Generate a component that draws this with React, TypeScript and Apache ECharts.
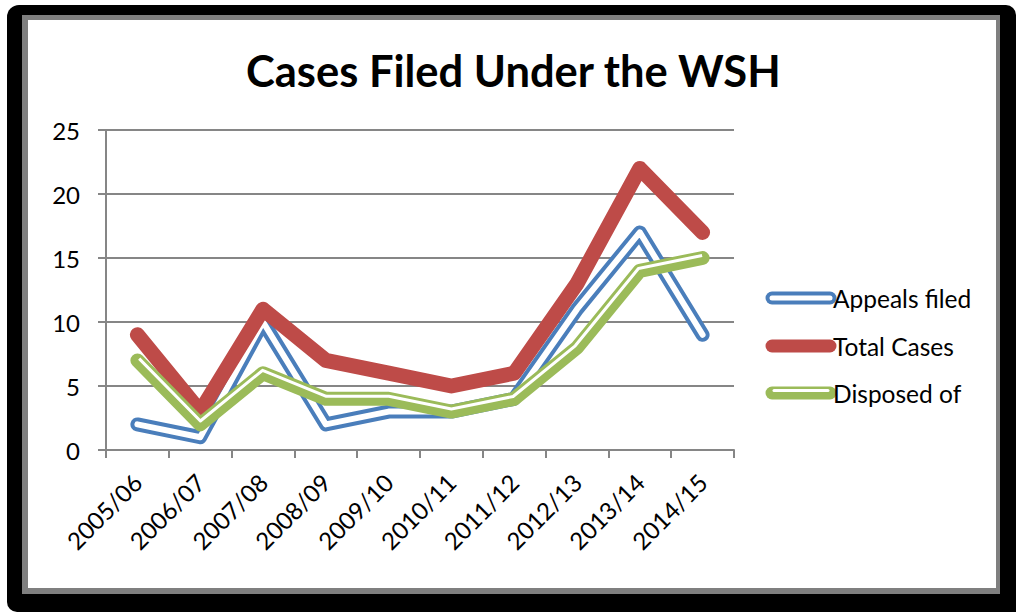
import React, { useEffect, useRef } from "react";
import * as echarts from "echarts";

const categories = ["2005/06", "2006/07", "2007/08", "2008/09", "2009/10", "2010/11", "2011/12", "2012/13", "2013/14", "2014/15"];
const appealsFiled = [2, 1, 10, 2, 3, 3, 4, 11, 17, 9];
const totalCases = [9, 3, 11, 7, 6, 5, 6, 13, 22, 17];
const disposedOf = [7, 2, 6, 4, 4, 3, 4, 8, 14, 15];
const seriesNames = ["Appeals filed", "Total Cases", "Disposed of"];
const titleText = "Cases Filed Under the WSH";
const yMin = 0;
const yMax = 25;
const yInterval = 5;

const BLUE = "#4a7ebb";
const RED = "#be4b48";
const GREEN = "#9bbb59";
const GRID = "#868686";
const FONT = "Lato";

function offsetPolyline(pts: number[][], d: number): number[][] {
  const n = pts.length;
  const normals: number[][] = [];
  for (let i = 0; i < n - 1; i++) {
    const dx = pts[i + 1][0] - pts[i][0];
    const dy = pts[i + 1][1] - pts[i][1];
    const len = Math.hypot(dx, dy) || 1;
    normals.push([dy / len, -dx / len]);
  }
  const out: number[][] = [];
  for (let i = 0; i < n; i++) {
    let ox: number, oy: number;
    if (i === 0) {
      ox = normals[0][0] * d;
      oy = normals[0][1] * d;
    } else if (i === n - 1) {
      ox = normals[n - 2][0] * d;
      oy = normals[n - 2][1] * d;
    } else {
      const a = normals[i - 1];
      const b = normals[i];
      const dot = a[0] * b[0] + a[1] * b[1];
      const s = d / Math.max(1 + dot, 0.3);
      ox = (a[0] + b[0]) * s;
      oy = (a[1] + b[1]) * s;
    }
    out.push([pts[i][0] + ox, pts[i][1] + oy]);
  }
  return out;
}

export default function App() {
  const ref = useRef<HTMLDivElement>(null);
  useEffect(() => {
    if (!ref.current) return;
    const chart = echarts.init(ref.current, null, { renderer: "svg" });
    const legendX1 = 772;
    const legendX2 = 830;
    const legendYs = [298, 346, 393];
    const legendText = (i: number) => ({
      type: "text",
      x: 833,
      y: legendYs[i],
      z: 10,
      style: { text: seriesNames[i], fontSize: 24.5, fontFamily: FONT, fill: "#000", align: "left", verticalAlign: "middle" },
    });
    const lineEl = (y: number, color: string, w: number) => ({
      type: "line",
      z: 10,
      shape: { x1: legendX1, y1: y, x2: legendX2, y2: y },
      style: { stroke: color, lineWidth: w, lineCap: "round" },
    });
    chart.setOption({
      animation: false,
      backgroundColor: "transparent",
      title: {
        text: titleText,
        left: 246,
        top: 48,
        padding: 0,
        textStyle: { fontFamily: FONT, fontSize: 43.5, fontWeight: "bold", color: "#000" },
      },
      grid: { left: 106, top: 130, width: 628, height: 320, containLabel: false },
      xAxis: {
        type: "category",
        data: categories,
        boundaryGap: true,
        axisLine: { show: true, lineStyle: { color: GRID, width: 2 } },
        axisTick: { show: true, alignWithLabel: false, length: 8, lineStyle: { color: GRID, width: 2 } },
        axisLabel: {
          interval: 0,
          rotate: 45,
          margin: 28,
          align: "right",
          verticalAlign: "middle",
          fontFamily: FONT,
          fontSize: 24,
          color: "#000",
        },
      },
      yAxis: {
        type: "value",
        min: yMin,
        max: yMax,
        interval: yInterval,
        axisLine: { show: true, lineStyle: { color: GRID, width: 2 } },
        axisTick: { show: true, length: 8, lineStyle: { color: GRID, width: 2 } },
        axisLabel: { margin: 26, fontFamily: FONT, fontSize: 24, color: "#000" },
        splitLine: { show: true, lineStyle: { color: GRID, width: 2 } },
      },
      series: [
        {
          name: seriesNames[0],
          type: "line",
          data: appealsFiled,
          symbol: "none",
          lineStyle: { color: BLUE, width: 14, cap: "round", join: "round" },
          z: 2,
        },
        {
          name: seriesNames[0] + " inner",
          type: "line",
          data: appealsFiled,
          symbol: "none",
          silent: true,
          lineStyle: { color: "#fff", width: 6, cap: "round", join: "round" },
          z: 2,
        },
        {
          name: seriesNames[1],
          type: "line",
          data: totalCases,
          symbol: "none",
          lineStyle: { color: RED, width: 15, cap: "round", join: "round" },
          z: 2,
        },
        {
          name: seriesNames[2],
          type: "line",
          data: disposedOf,
          symbol: "none",
          lineStyle: { color: GREEN, width: 14, cap: "round", join: "round" },
          z: 2,
        },
        {
          name: seriesNames[2] + " inner",
          type: "custom",
          coordinateSystem: "cartesian2d",
          silent: true,
          clip: false,
          z: 5,
          data: disposedOf.map((v, i) => [i, v]),
          encode: { x: 0, y: 1 },
          renderItem: (params: any, api: any) => {
            if (params.dataIndex !== 0) return { type: "group", children: [] };
            const pts = disposedOf.map((v, i) => api.coord([i, v]));
            const off = offsetPolyline(pts, 2.5);
            return {
              type: "polyline",
              shape: { points: off },
              style: { stroke: "#ffffff", lineWidth: 3, fill: null, lineJoin: "round", lineCap: "butt" },
            };
          },
        },
      ],
      graphic: [
        lineEl(legendYs[0], BLUE, 13),
        lineEl(legendYs[0], "#fff", 5),
        legendText(0),
        lineEl(legendYs[1], RED, 13),
        legendText(1),
        lineEl(legendYs[2], GREEN, 13),
        {
          type: "line",
          z: 11,
          shape: { x1: legendX1 + 2, y1: legendYs[2] - 2.5, x2: legendX2 - 2, y2: legendYs[2] - 2.5 },
          style: { stroke: "#fff", lineWidth: 3, lineCap: "round" },
        },
        legendText(2),
      ],
    });
    return () => chart.dispose();
  }, []);

  return (
    <div style={{ position: "absolute", left: 0, top: 0, width: 1016, height: 612, background: "#fff", overflow: "hidden" }}>
      <div style={{ position: "absolute", left: 7, top: 5, width: 1009, height: 607, background: "#000", borderRadius: "12px 10px 0 10px" }} />
      <div style={{ position: "absolute", left: 22, top: 15, width: 978, height: 579, background: "#7f7f7f" }} />
      <div style={{ position: "absolute", left: 28, top: 20, width: 968, height: 568, background: "#fff" }} />
      <div ref={ref} style={{ position: "absolute", left: 0, top: 0, width: 1016, height: 612 }} />
    </div>
  );
}
